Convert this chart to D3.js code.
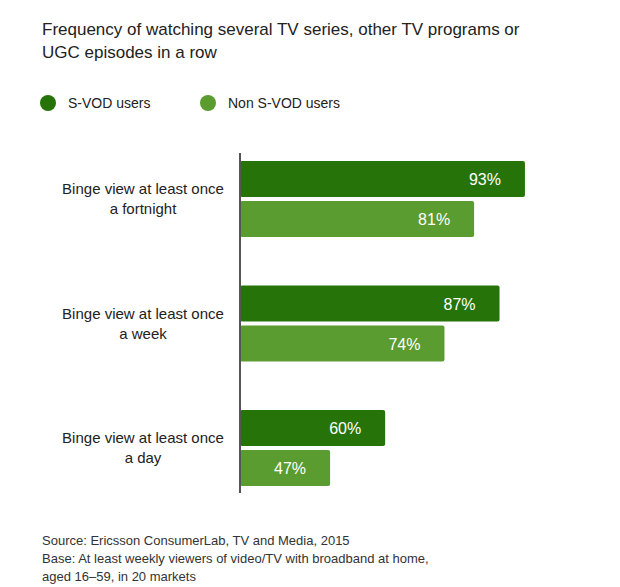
<!DOCTYPE html>
<html><head><meta charset="utf-8">
<script src="https://cdn.jsdelivr.net/npm/d3@7"></script>
<style>body{margin:0;background:#fff;font-family:"Liberation Sans",Arial,sans-serif;}</style>
</head><body><svg id="chart" width="620" height="587"></svg>
<script>
const categories = [["Binge view at least once", "a fortnight"], ["Binge view at least once", "a week"], ["Binge view at least once", "a day"]];
const seriesNames = ["S-VOD users", "Non S-VOD users"];
const svodValues = [93, 87, 60];
const nonSvodValues = [81, 74, 47];
const colors = ["#267409", "#5a9c2f"];

const svg = d3.select("#chart");
const axisX = 240;
const x = d3.scaleLinear().domain([0, 100]).range([131, 554.6]);
const y = d3.scaleBand().domain(d3.range(categories.length)).range([161, 161 + 3 * 124.5]).paddingInner(0);
const barH = 36, gap = 4;

svg.append("text").attr("x", 42).attr("y", 35).attr("font-size", 17).attr("fill", "#222")
  .text("Frequency of watching several TV series, other TV programs or");
svg.append("text").attr("x", 42).attr("y", 58).attr("font-size", 17).attr("fill", "#222")
  .text("UGC episodes in a row");

const legendX = [48, 208];
seriesNames.forEach((n, i) => {
  svg.append("circle").attr("cx", legendX[i]).attr("cy", 103).attr("r", 8).attr("fill", colors[i]);
  svg.append("text").attr("x", legendX[i] + 20).attr("y", 108).attr("font-size", 14).attr("fill", "#222").text(n);
});

[svodValues, nonSvodValues].forEach((vals, s) => {
  const g = svg.append("g");
  g.selectAll("rect").data(vals).join("rect")
    .attr("x", axisX).attr("y", (d, i) => y(i) + s * (barH + gap))
    .attr("width", d => x(d) - axisX).attr("height", barH).attr("rx", 2).attr("fill", colors[s]);
  g.selectAll("text").data(vals).join("text")
    .attr("x", d => x(d) - 24).attr("y", (d, i) => y(i) + s * (barH + gap) + barH / 2 + 6)
    .attr("text-anchor", "end").attr("font-size", 16).attr("fill", "#fff").text(d => d + "%");
});

categories.forEach((c, i) => {
  c.forEach((line, j) => {
    svg.append("text").attr("x", 143).attr("y", y(i) + 33 + j * 20).attr("text-anchor", "middle")
      .attr("font-size", 15).attr("fill", "#222").text(line);
  });
});

svg.append("line").attr("x1", axisX).attr("x2", axisX).attr("y1", 153).attr("y2", 493)
  .attr("stroke", "#555").attr("stroke-width", 2);

["Source: Ericsson ConsumerLab, TV and Media, 2015",
 "Base: At least weekly viewers of video/TV with broadband at home,",
 "aged 16–59, in 20 markets"].forEach((t, i) => {
  svg.append("text").attr("x", 42).attr("y", 545 + i * 18).attr("font-size", 13).attr("fill", "#333").text(t);
});
</script></body></html>
